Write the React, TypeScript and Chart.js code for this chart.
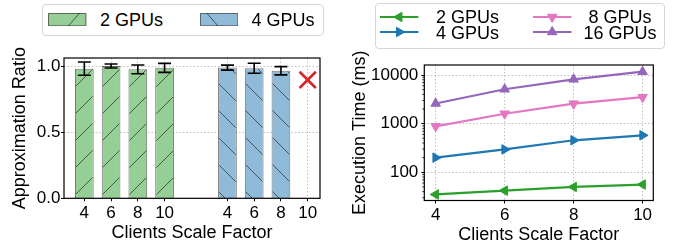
import React, { useEffect, useRef } from "react";
import { Chart, registerables } from "chart.js";
Chart.register(...registerables);

const FONT = "'Liberation Sans', Arial, Helvetica, sans-serif";

// ---------- Left panel data (Approximation Ratio) ----------
const scaleFactorLabels = ["4", "6", "8", "10"];
const groupPositions2 = [0, 1, 2, 3];
const groupPositions4 = [5.35, 6.35, 7.35, 8.35];
const ratio2Gpus = [0.98, 1.0, 0.975, 0.986];
const ratio2GpusErr = [0.05, 0.015, 0.033, 0.034];
const ratio4Gpus: (number | null)[] = [0.988, 0.983, 0.964, null];
const ratio4GpusErr = [0.019, 0.038, 0.031, 0];
const failedIndex4Gpus = [3]; // 4 GPUs at factor 10 failed
const failedMarkerValue = [0.895];
const ratioTicks = [0, 0.5, 1.0];

// ---------- Right panel data (Execution Time) ----------
const scaleFactors = [4, 6, 8, 10];
const time2Gpus = [35, 42, 50, 56];
const time4Gpus = [200, 295, 455, 575];
const time8Gpus = [880, 1600, 2570, 3500];
const time16Gpus = [2600, 5100, 8150, 11700];
const timeTicks = [100, 1000, 10000];

const GREEN_FILL = "#96cf96";
const BLUE_FILL = "#8fbbd9";
const EDGE = "rgba(0,0,0,0.55)";

const lineSeries = [
  { label: "2 GPUs", data: time2Gpus, color: "#2ca02c", rot: -90 },
  { label: "4 GPUs", data: time4Gpus, color: "#1f77b4", rot: 90 },
  { label: "8 GPUs", data: time8Gpus, color: "#e377c2", rot: 180 },
  { label: "16 GPUs", data: time16Gpus, color: "#9467bd", rot: 0 },
];

function hatch(ctx: CanvasRenderingContext2D, fill: string, dir: number) {
  const size = 27;
  const c = document.createElement("canvas");
  c.width = size;
  c.height = size;
  const g = c.getContext("2d")!;
  g.fillStyle = fill;
  g.fillRect(0, 0, size, size);
  g.strokeStyle = EDGE;
  g.lineWidth = 1;
  g.beginPath();
  for (const o of [-size, 0, size]) {
    if (dir > 0) {
      g.moveTo(o, size);
      g.lineTo(o + size, 0);
    } else {
      g.moveTo(o, 0);
      g.lineTo(o + size, size);
    }
  }
  g.stroke();
  return ctx.createPattern(c, "repeat")!;
}

const gridOpts = {
  color: "#b0b0b0",
  lineWidth: 0.8,
  tickColor: "#000",
  tickLength: 3,
  tickWidth: 1,
  tickBorderDash: [],
  offset: false,
};
const borderOpts = { display: false, dash: [1.5, 2] };
const tickFont = { family: FONT, size: 17, lineHeight: 1.2 };
const titleFont = { family: FONT, size: 18, lineHeight: 1.2 };

const framePlugin = {
  id: "frame",
  afterDraw(chart: any) {
    const { ctx, chartArea: a } = chart;
    ctx.save();
    ctx.strokeStyle = "#000";
    ctx.lineWidth = 1.2;
    ctx.strokeRect(a.left, a.top, a.right - a.left, a.bottom - a.top);
    ctx.restore();
  },
};

const errorBarPlugin = {
  id: "errorBars",
  afterDatasetsDraw(chart: any) {
    const { ctx } = chart;
    const y = chart.scales.y;
    const sets = [
      { vals: ratio2Gpus, errs: ratio2GpusErr },
      { vals: ratio4Gpus, errs: ratio4GpusErr },
    ];
    ctx.save();
    ctx.strokeStyle = "#000";
    ctx.lineWidth = 1.6;
    sets.forEach((s, di) => {
      const meta = chart.getDatasetMeta(di);
      meta.data.forEach((el: any, i: number) => {
        const v = s.vals[i];
        if (v == null) return;
        const e = s.errs[i];
        const y1 = y.getPixelForValue(v + e);
        const y2 = y.getPixelForValue(v - e);
        const x = el.x;
        ctx.beginPath();
        ctx.moveTo(x, y1);
        ctx.lineTo(x, y2);
        ctx.moveTo(x - 6.5, y1);
        ctx.lineTo(x + 6.5, y1);
        ctx.moveTo(x - 6.5, y2);
        ctx.lineTo(x + 6.5, y2);
        ctx.stroke();
      });
    });
    ctx.restore();
  },
};

const minorLogTicks = {
  id: "minorLogTicks",
  afterDraw(chart: any) {
    const { ctx } = chart;
    const s = chart.scales.y;
    const left = chart.chartArea.left;
    ctx.save();
    ctx.strokeStyle = "#000";
    ctx.lineWidth = 0.8;
    ctx.beginPath();
    for (let d = 10; d <= 10000; d *= 10) {
      for (let m = 2; m <= 9; m++) {
        const v = d * m;
        if (v < s.min || v > s.max) continue;
        const py = s.getPixelForValue(v);
        ctx.moveTo(left - 2, py);
        ctx.lineTo(left, py);
      }
    }
    ctx.stroke();
    ctx.restore();
  },
};

function LeftChart() {
  const ref = useRef<HTMLCanvasElement>(null);
  useEffect(() => {
    const ctx = ref.current!.getContext("2d")!;
    const tickPositions = [...groupPositions2, ...groupPositions4];
    const tickLabels = [...scaleFactorLabels, ...scaleFactorLabels];
    const chart = new Chart(ctx, {
      type: "bar",
      data: {
        datasets: [
          {
            label: "2 GPUs",
            data: groupPositions2.map((x, i) => ({ x, y: ratio2Gpus[i] })),
            backgroundColor: hatch(ctx, GREEN_FILL, 1),
            borderColor: EDGE,
            borderWidth: 1,
            barPercentage: 0.7,
            categoryPercentage: 1,
            grouped: false,
          } as any,
          {
            label: "4 GPUs",
            data: groupPositions4.map((x, i) => ({ x, y: ratio4Gpus[i] })),
            backgroundColor: hatch(ctx, BLUE_FILL, -1),
            borderColor: EDGE,
            borderWidth: 1,
            barPercentage: 0.7,
            categoryPercentage: 1,
            grouped: false,
          } as any,
          {
            type: "scatter",
            label: "failed",
            data: failedIndex4Gpus.map((idx, i) => ({ x: groupPositions4[idx], y: failedMarkerValue[i] })),
            pointStyle: "crossRot",
            pointRadius: 11.5,
            pointBorderWidth: 2.6,
            pointBorderColor: "#d62728",
            pointBackgroundColor: "#d62728",
            showLine: false,
          } as any,
        ],
      },
      options: {
        animation: false,
        responsive: false,
        events: [],
        layout: { padding: { top: 58, right: 20, left: 0, bottom: 0 } },
        plugins: { legend: { display: false }, tooltip: { enabled: false } },
        scales: {
          x: {
            type: "linear",
            min: -0.76,
            max: 8.81,
            offset: false,
            afterBuildTicks: (s: any) => {
              s.ticks = tickPositions.map((v) => ({ value: v }));
            },
            afterFit: (s: any) => {
              s.height = 48.7;
            },
            ticks: {
              autoSkip: false,
              maxRotation: 0,
              padding: 2,
              font: tickFont,
              color: "#000",
              callback: (_v: any, i: number) => tickLabels[i],
            },
            grid: gridOpts,
            border: borderOpts,
            title: {
              display: true,
              text: "Clients Scale Factor",
              font: titleFont,
              color: "#000",
              padding: { top: 0, bottom: 3.4 },
            },
          } as any,
          y: {
            type: "linear",
            min: 0,
            max: 1.0605,
            afterBuildTicks: (s: any) => {
              s.ticks = ratioTicks.map((v) => ({ value: v }));
            },
            afterFit: (s: any) => {
              s.width = 64;
            },
            ticks: {
              padding: 0.5,
              font: tickFont,
              color: "#000",
              callback: (v: any) => Number(v).toFixed(1),
            },
            grid: gridOpts,
            border: borderOpts,
            title: {
              display: true,
              text: "Approximation Ratio",
              font: titleFont,
              color: "#000",
              padding: { top: 9, bottom: 0 },
            },
          } as any,
        },
      },
      plugins: [errorBarPlugin, framePlugin],
    });
    return () => chart.destroy();
  }, []);
  return (
    <canvas
      ref={ref}
      width={340}
      height={247}
      style={{ position: "absolute", left: 0, top: 0, width: 340, height: 247 }}
    />
  );
}

function RightChart() {
  const ref = useRef<HTMLCanvasElement>(null);
  useEffect(() => {
    const ctx = ref.current!.getContext("2d")!;
    const chart = new Chart(ctx, {
      type: "line",
      data: {
        datasets: lineSeries.map((s) => ({
          label: s.label,
          data: scaleFactors.map((x, i) => ({ x, y: s.data[i] })),
          borderColor: s.color,
          backgroundColor: s.color,
          borderWidth: 2.2,
          pointStyle: "triangle",
          pointRadius: 5.5,
          pointRotation: s.rot,
          pointBorderWidth: 1,
          pointBorderColor: s.color,
          pointBackgroundColor: s.color,
          tension: 0,
          fill: false,
        })) as any,
      },
      options: {
        animation: false,
        responsive: false,
        events: [],
        layout: { padding: { top: 65, right: 23.7, left: 0, bottom: 0 } },
        plugins: { legend: { display: false }, tooltip: { enabled: false } },
        scales: {
          x: {
            type: "linear",
            min: 3.67,
            max: 10.31,
            afterBuildTicks: (s: any) => {
              s.ticks = scaleFactors.map((v) => ({ value: v }));
            },
            afterFit: (s: any) => {
              s.height = 46.5;
            },
            ticks: {
              autoSkip: false,
              maxRotation: 0,
              padding: 2,
              font: tickFont,
              color: "#000",
              callback: (v: any) => String(v),
            },
            grid: gridOpts,
            border: borderOpts,
            title: {
              display: true,
              text: "Clients Scale Factor",
              font: titleFont,
              color: "#000",
              padding: { top: 0, bottom: 1.5 },
            },
          } as any,
          y: {
            type: "logarithmic",
            min: 26.3,
            max: 16060,
            afterBuildTicks: (s: any) => {
              s.ticks = timeTicks.map((v) => ({ value: v }));
            },
            afterFit: (s: any) => {
              s.width = 84.3;
            },
            ticks: {
              autoSkip: false,
              padding: 3,
              font: tickFont,
              color: "#000",
              callback: (v: any) => String(v),
            },
            grid: gridOpts,
            border: borderOpts,
            title: {
              display: true,
              text: "Execution Time (ms)",
              font: titleFont,
              color: "#000",
              padding: { top: 9.2, bottom: 0 },
            },
          } as any,
        },
      },
      plugins: [minorLogTicks, framePlugin],
    });
    return () => chart.destroy();
  }, []);
  return (
    <canvas
      ref={ref}
      width={337}
      height={247}
      style={{ position: "absolute", left: 340, top: 0, width: 337, height: 247 }}
    />
  );
}

function Label({ text, cx, baseline }: { text: string; cx: number; baseline: number }) {
  return (
    <div
      style={{
        position: "absolute",
        left: cx - 60,
        top: baseline - 15.24,
        width: 120,
        textAlign: "center",
        fontFamily: FONT,
        fontSize: 18,
        lineHeight: "18px",
        whiteSpace: "nowrap",
        color: "#000",
      }}
    >
      {text}
    </div>
  );
}

function triPoints(cx: number, cy: number, r: number, rotDeg: number) {
  const pts: string[] = [];
  for (let k = 0; k < 3; k++) {
    const a = ((rotDeg + k * 120) * Math.PI) / 180;
    pts.push(`${cx + r * Math.sin(a)},${cy - r * Math.cos(a)}`);
  }
  return pts.join(" ");
}

const boxStyle = (left: number, top: number, width: number, height: number): React.CSSProperties => ({
  position: "absolute",
  left,
  top,
  width,
  height,
  border: "1px solid #d6d6d6",
  borderRadius: 4,
  background: "#fff",
  boxSizing: "border-box",
});

function LeftLegend() {
  return (
    <>
      <div style={boxStyle(41.5, 4, 282, 32)} />
      <svg style={{ position: "absolute", left: 48.3, top: 12.7 }} width={38.4} height={13.3}>
        <rect x={0.5} y={0.5} width={37.4} height={12.3} fill={GREEN_FILL} stroke={EDGE} strokeWidth={1} />
        <line x1={20} y1={13.3} x2={31.7} y2={0} stroke={EDGE} strokeWidth={1} />
      </svg>
      <Label text="2 GPUs" cx={131.4} baseline={26.7} />
      <svg style={{ position: "absolute", left: 200, top: 12.7 }} width={38.4} height={13.3}>
        <rect x={0.5} y={0.5} width={37.4} height={12.3} fill={BLUE_FILL} stroke={EDGE} strokeWidth={1} />
        <line x1={6.7} y1={0} x2={18.3} y2={13.3} stroke={EDGE} strokeWidth={1} />
      </svg>
      <Label text="4 GPUs" cx={283} baseline={26.7} />
    </>
  );
}

function RightLegend() {
  const slots = [
    { x: 380, cx: 467.5, ly: 16.7, base: 23.3 },
    { x: 380, cx: 467.5, ly: 32.3, base: 39.3 },
    { x: 533.3, cx: 620, ly: 16.7, base: 23.3 },
    { x: 533.3, cx: 620, ly: 32.3, base: 39.3 },
  ];
  return (
    <>
      <div style={boxStyle(375, 3.3, 289.5, 46)} />
      {lineSeries.map((s, i) => {
        const p = slots[i];
        return (
          <React.Fragment key={s.label}>
            <svg style={{ position: "absolute", left: p.x, top: p.ly - 7 }} width={39} height={14}>
              <line x1={0} y1={7} x2={38.4} y2={7} stroke={s.color} strokeWidth={2.2} />
              <polygon points={triPoints(19.2, 7, 5.5, s.rot)} fill={s.color} stroke={s.color} strokeWidth={1} />
            </svg>
            <Label text={s.label} cx={p.cx} baseline={p.base} />
          </React.Fragment>
        );
      })}
    </>
  );
}

export default function App() {
  return (
    <div
      style={{
        position: "fixed",
        left: 0,
        top: 0,
        width: 677,
        height: 247,
        background: "#fff",
        overflow: "hidden",
      }}
    >
      <LeftChart />
      <RightChart />
      <LeftLegend />
      <RightLegend />
    </div>
  );
}
